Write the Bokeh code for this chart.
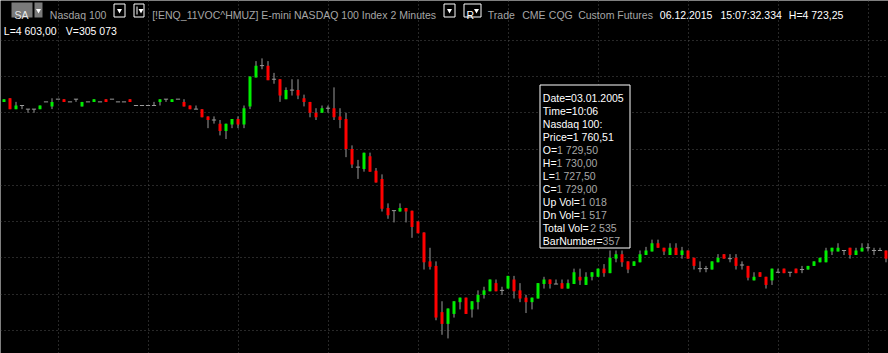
from bokeh.plotting import figure
from bokeh.models import Range1d, FixedTicker, Grid
from bokeh.embed import file_html
from bokeh.resources import INLINE
from bokeh.core.properties import value

# ---- data: 2-minute bars (price) ----
opens = [1753.0, 1754.0, 1751.0, 1752.0, 1751.0, 1751.0, 1751.0, 1753.0, 1751.75, 1753.75,
         1753.75, 1753.0, 1753.75, 1751.75, 1753.0, 1753.0, 1753.0, 1753.75, 1753.75, 1753.0,
         1753.0, 1753.75, 1752.0, 1752.0, 1752.0, 1752.0, 1753.0, 1753.75, 1753.0, 1753.75,
         1753.0, 1752.0, 1751.0, 1751.0, 1749.0, 1748.0, 1747.0, 1745.0, 1746.75, 1748.25,
         1746.75, 1751.75, 1759.75, 1763.0, 1763.0, 1759.25, 1759.25, 1753.75, 1756.25, 1756.25,
         1754.0, 1753.0, 1750.0, 1750.0, 1751.25, 1751.25, 1749.0, 1748.25, 1740.0, 1735.0,
         1734.5, 1738.0, 1734.0, 1731.75, 1723.75, 1723.0, 1722.75, 1723.75, 1723.0, 1720.0,
         1717.0, 1709.0, 1707.75, 1695.0, 1691.75, 1694.5, 1697.75, 1699.0, 1695.75, 1697.75,
         1699.75, 1700.75, 1703.0, 1701.0, 1701.5, 1704.0, 1701.0, 1699.0, 1697.75, 1698.75,
         1702.75, 1704.0, 1702.75, 1703.0, 1701.5, 1702.75, 1704.75, 1702.5, 1704.75, 1704.75,
         1707.0, 1705.75, 1709.75, 1711.0, 1709.0, 1707.75, 1708.75, 1710.75, 1711.75, 1714.0,
         1712.75, 1710.75, 1712.75, 1710.75, 1712.0, 1710.0, 1707.0, 1707.0, 1706.75, 1708.75,
         1711.0, 1709.75, 1710.0, 1708.0, 1707.75, 1703.75, 1706.0, 1704.75, 1703.75, 1706.0,
         1707.0, 1706.0, 1707.0, 1706.75, 1706.75, 1707.75, 1708.75, 1708.75, 1711.75, 1711.75,
         1712.0, 1712.75, 1710.75, 1711.75, 1712.75, 1712.0, 1712.0, 1712.0]
highs = [1753.75, 1754.0, 1753.0, 1752.0, 1751.0, 1751.0, 1752.0, 1753.0, 1754.0, 1753.75,
         1753.75, 1753.0, 1753.75, 1753.0, 1753.0, 1753.75, 1753.0, 1753.75, 1753.75, 1753.0,
         1753.0, 1753.75, 1752.0, 1752.0, 1752.0, 1753.0, 1753.75, 1753.75, 1753.75, 1753.75,
         1753.75, 1752.0, 1752.0, 1751.0, 1749.0, 1749.0, 1748.0, 1747.0, 1748.25, 1749.0,
         1752.0, 1760.0, 1764.25, 1765.0, 1764.25, 1761.0, 1759.25, 1757.0, 1759.25, 1759.25,
         1755.0, 1753.0, 1751.25, 1752.0, 1752.0, 1757.0, 1751.25, 1750.0, 1741.0, 1737.0,
         1739.0, 1739.0, 1734.75, 1733.0, 1725.0, 1723.0, 1725.0, 1723.75, 1723.0, 1720.0,
         1717.0, 1712.75, 1709.0, 1698.0, 1696.0, 1698.0, 1699.0, 1699.0, 1698.0, 1701.0,
         1702.0, 1704.0, 1704.0, 1702.0, 1705.0, 1705.0, 1703.0, 1699.75, 1699.0, 1703.0,
         1704.75, 1704.0, 1704.0, 1704.0, 1704.0, 1707.0, 1707.0, 1706.0, 1706.0, 1707.0,
         1708.25, 1712.0, 1712.0, 1712.0, 1709.0, 1709.0, 1712.0, 1713.0, 1715.0, 1715.0,
         1712.75, 1714.0, 1714.0, 1713.0, 1712.0, 1710.0, 1709.0, 1707.75, 1709.0, 1711.0,
         1711.0, 1711.0, 1711.0, 1709.0, 1707.75, 1706.0, 1706.0, 1704.75, 1707.0, 1707.0,
         1707.0, 1706.0, 1707.0, 1707.75, 1707.75, 1709.0, 1710.0, 1712.75, 1712.75, 1714.0,
         1712.0, 1712.75, 1712.75, 1714.0, 1714.0, 1712.75, 1712.75, 1712.0]
lows = [1753.0, 1751.0, 1751.0, 1751.0, 1750.0, 1750.0, 1751.0, 1753.0, 1751.0, 1753.75,
        1753.0, 1753.0, 1753.0, 1751.75, 1753.0, 1753.0, 1753.0, 1753.0, 1753.75, 1753.0,
        1753.0, 1753.0, 1752.0, 1752.0, 1752.0, 1752.0, 1752.0, 1753.0, 1753.0, 1753.75,
        1751.75, 1751.0, 1751.0, 1748.75, 1745.75, 1747.0, 1743.75, 1742.75, 1745.75, 1745.75,
        1745.75, 1751.0, 1759.75, 1762.0, 1759.0, 1758.0, 1753.0, 1753.75, 1754.75, 1753.75,
        1751.75, 1748.75, 1748.0, 1750.0, 1750.0, 1748.0, 1745.75, 1737.75, 1734.75, 1731.75,
        1733.75, 1733.75, 1730.75, 1722.75, 1720.75, 1719.75, 1722.75, 1719.75, 1715.5, 1716.75,
        1706.75, 1706.75, 1692.75, 1688.75, 1687.75, 1693.5, 1695.75, 1694.5, 1693.5, 1695.75,
        1698.75, 1700.75, 1700.75, 1699.75, 1701.5, 1698.75, 1697.75, 1694.75, 1695.75, 1698.75,
        1701.5, 1701.5, 1702.75, 1701.5, 1701.5, 1702.75, 1702.5, 1702.5, 1703.75, 1704.75,
        1704.75, 1705.75, 1708.75, 1707.5, 1705.75, 1707.75, 1708.75, 1710.75, 1711.75, 1712.75,
        1710.75, 1710.75, 1710.75, 1709.75, 1709.75, 1706.75, 1706.0, 1706.0, 1706.75, 1708.75,
        1709.75, 1708.75, 1706.75, 1706.75, 1703.75, 1703.75, 1704.75, 1701.5, 1702.5, 1706.0,
        1705.75, 1704.75, 1705.75, 1705.75, 1706.75, 1707.75, 1708.75, 1708.75, 1710.75, 1711.75,
        1710.75, 1709.75, 1710.75, 1711.75, 1711.75, 1710.75, 1712.0, 1708.75]
closes = [1753.75, 1751.0, 1752.0, 1752.0, 1751.0, 1751.0, 1752.0, 1753.0, 1753.0, 1753.75,
          1753.0, 1753.0, 1753.75, 1753.0, 1753.0, 1753.75, 1753.0, 1753.0, 1753.75, 1753.0,
          1753.0, 1753.0, 1752.0, 1752.0, 1752.0, 1752.0, 1753.75, 1753.75, 1753.75, 1753.75,
          1751.75, 1751.0, 1751.0, 1748.75, 1748.0, 1748.0, 1745.0, 1747.0, 1748.25, 1746.75,
          1751.25, 1760.0, 1763.0, 1763.0, 1759.0, 1759.25, 1754.75, 1756.25, 1756.25, 1754.75,
          1753.0, 1750.0, 1748.75, 1751.25, 1751.25, 1748.75, 1748.0, 1740.0, 1735.75, 1735.0,
          1739.0, 1733.75, 1730.75, 1723.5, 1721.75, 1723.0, 1723.75, 1722.75, 1718.5, 1716.75,
          1708.75, 1707.5, 1693.5, 1691.75, 1696.0, 1698.0, 1699.0, 1694.5, 1698.0, 1699.75,
          1701.0, 1704.0, 1700.75, 1701.0, 1705.0, 1700.75, 1698.75, 1697.75, 1699.0, 1703.0,
          1704.0, 1702.75, 1702.75, 1701.5, 1703.0, 1706.0, 1703.75, 1704.75, 1706.0, 1707.0,
          1705.75, 1710.0, 1711.0, 1708.75, 1706.75, 1709.0, 1711.0, 1712.0, 1714.0, 1712.75,
          1711.75, 1712.75, 1710.75, 1712.0, 1709.75, 1707.75, 1707.0, 1707.0, 1709.0, 1710.0,
          1709.75, 1709.75, 1707.75, 1708.0, 1704.5, 1704.75, 1704.75, 1702.5, 1707.0, 1706.0,
          1705.75, 1706.0, 1705.75, 1706.75, 1707.75, 1709.0, 1710.0, 1712.0, 1712.75, 1712.75,
          1712.0, 1710.75, 1712.0, 1712.75, 1712.75, 1712.0, 1712.0, 1709.75]

price_grid = [1690, 1700, 1710, 1720, 1730, 1740, 1750, 1760, 1770]
time_grid_bars = [9, 24, 39, 54, 69, 84, 99, 114, 129, 144]

tip_labels = ["Date=03.01.2005", "Time=10:06", "Nasdaq 100:", "Price=1 760,51",
              "O=", "H=", "L=", "C=", "Up Vol=", "Dn Vol=", "Total Vol=", "BarNumber="]
tip_values = ["", "", "", "", "1 729,50", "1 730,00", "1 727,50", "1 729,00",
              "1 018", "1 517", "2 535", "357"]

# ---- layout constants ----
W, H = 888, 353
PX_PER_BAR = 6.0
PX_PER_PT = 3.625
X0 = -3.5 / PX_PER_BAR
YT = 1760 + 76 / PX_PER_PT

def sx(px):
    return X0 + px / PX_PER_BAR

def sy(py):
    return YT - py / PX_PER_PT

GREEN = "#00ee00"
RED = "#ff0000"
WICK = "#9a9a9a"
GRAYTXT = "#a6a6a6"
FONT = value("Liberation Sans")
FS = "10.5px"

p = figure(width=W, height=H, x_range=Range1d(X0, X0 + W / PX_PER_BAR),
           y_range=Range1d(YT - H / PX_PER_PT, YT),
           x_axis_type=None, y_axis_type=None,
           output_backend="svg", toolbar_location=None, min_border=0,
           background_fill_color="#000000", border_fill_color="#000000",
           outline_line_color=None)

p.add_layout(Grid(dimension=0, ticker=FixedTicker(ticks=time_grid_bars),
                  grid_line_color="#505050", grid_line_dash="1 3", grid_line_width=1))
p.add_layout(Grid(dimension=1, ticker=FixedTicker(ticks=price_grid),
                  grid_line_color="#505050", grid_line_dash="1 3", grid_line_width=1))

idx = list(range(len(opens)))
up = [i for i in idx if closes[i] > opens[i]]
dn = [i for i in idx if closes[i] < opens[i]]
eq = [i for i in idx if closes[i] == opens[i]]

p.segment(x0=idx, y0=lows, x1=idx, y1=highs, line_color=WICK, line_width=1)
p.vbar(x=up, width=0.5, bottom=[opens[i] for i in up], top=[closes[i] for i in up],
       fill_color=GREEN, line_color=None)
p.vbar(x=dn, width=0.5, top=[opens[i] for i in dn], bottom=[closes[i] for i in dn],
       fill_color=RED, line_color=None)
p.segment(x0=[i - 0.35 for i in eq], y0=[opens[i] for i in eq],
          x1=[i + 0.35 for i in eq], y1=[opens[i] for i in eq],
          line_color=WICK, line_width=1)

# ---- header ----
def txt(px, py, s, color):
    p.text(x=[sx(px)], y=[sy(py)], text=[s], text_color=color, text_font=FONT,
           text_font_size=FS, text_baseline="alphabetic", text_align="left")

# SA selector
p.quad(left=[sx(11)], right=[sx(32)], top=[sy(2)], bottom=[sy(17)],
       fill_color="#7a7a7a", line_color=None)
p.quad(left=[sx(34)], right=[sx(42)], top=[sy(2)], bottom=[sy(17)],
       fill_color="#7a7a7a", line_color=None)
txt(14, 14.7, "SA", "#e8e8e8")
# outlined buttons
for l, r in [(113.5, 124.5), (133.5, 143.5), (443.5, 454.5), (463.5, 480.5)]:
    p.quad(left=[sx(l)], right=[sx(r)], top=[sy(3.5)], bottom=[sy(16.5)],
           fill_color="#000000", line_color="#ffffff", line_width=1)
p.scatter(x=[sx(38), sx(119), sx(140.5), sx(449), sx(476)],
          y=[sy(10)] * 5, marker="inverted_triangle", size=5,
          fill_color="#ffffff", line_color=None)
p.segment(x0=[sx(136.5)], y0=[sy(6)], x1=[sx(136.5)], y1=[sy(14)], line_color="#ffffff")
txt(466, 14.7, "R", "#ffffff")

txt(49.3, 14.7, "Nasdaq 100", GRAYTXT)
txt(151.7, 14.7, "[!ENQ_11VOC^HMUZ] E-mini NASDAQ 100 Index", GRAYTXT)
txt(390, 14.7, "2 Minutes", GRAYTXT)
txt(487.3, 14.7, "Trade", GRAYTXT)
txt(521.7, 14.7, "CME", GRAYTXT)
txt(548.3, 14.7, "CQG", GRAYTXT)
txt(577.7, 14.7, "Custom Futures", GRAYTXT)
txt(659.3, 14.7, "06.12.2015", "#ffffff")
txt(720, 14.7, "15:07:32.334", "#ffffff")
txt(788.3, 14.7, "H=4 723,25", "#ffffff")
txt(3.3, 30.3, "L=4 603,00", "#ffffff")
txt(65.3, 30.3, "V=305 073", "#ffffff")

# ---- hover info box ----
p.quad(left=[sx(539.5)], right=[sx(629.5)], top=[sy(84.5)], bottom=[sy(247.5)],
       fill_color="#000000", line_color="#ffffff", line_width=1)

ARIAL = {' ': 278, '=': 584, 'O': 778, 'H': 722, 'L': 556, 'C': 722, 'U': 722, 'p': 556,
         'V': 667, 'o': 556, 'l': 222, 'D': 722, 'n': 556, 'T': 611, 't': 278, 'a': 556,
         'B': 667, 'r': 333, 'N': 722, 'u': 556, 'm': 833, 'b': 556, 'e': 556}

def text_w(s):
    return sum(ARIAL.get(ch, 556) for ch in s) * 10.5 / 1000.0

for k, (lab, val) in enumerate(zip(tip_labels, tip_values)):
    base = 97.5 + 13 * k
    txt(542.3, base, lab, "#ffffff")
    if val:
        txt(542.3 + text_w(lab), base, val, GRAYTXT)

open("out.html", "w").write(file_html(p, INLINE))
